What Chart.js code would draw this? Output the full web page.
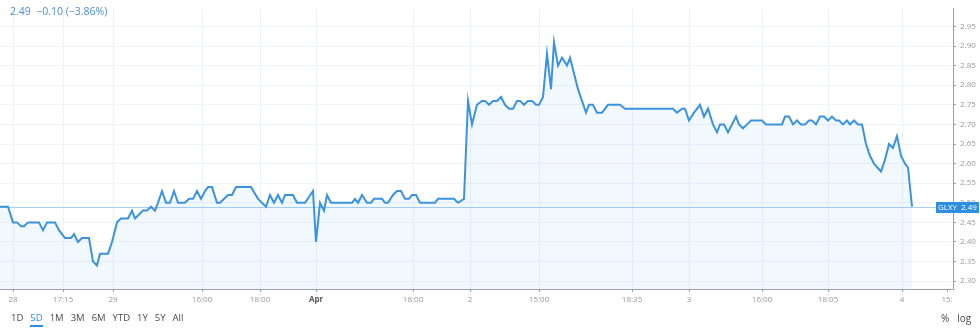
<!DOCTYPE html>
<html>
<head>
<meta charset="utf-8">
<script src="https://cdn.jsdelivr.net/npm/chart.js@4.4.1/dist/chart.umd.min.js"></script>
<style>
  html, body { margin: 0; padding: 0; background: #fff; }
  #wrap { position: relative; width: 980px; height: 328px; overflow: hidden; font-family: "Open Sans", sans-serif; }
  #graph { position: absolute; left: 0; top: 0; }
  #quote { position: absolute; left: 10px; top: 4px; font-size: 10.5px; color: #4a90d0; white-space: pre; }
  #ranges { position: absolute; left: 11px; top: 311px; display: flex; gap: 7px; font-size: 9.5px; color: #4a4a4a; }
  #ranges span.on { color: #2e8fe0; border-bottom: 2px solid #2e8fe0; padding-bottom: 1px; }
  #opts { position: absolute; left: 941px; top: 311px; font-size: 10px; color: #4a4a4a; display: flex; gap: 8px; }
</style>
</head>
<body>
<div id="wrap">
  <canvas id="graph" width="980" height="328"></canvas>
  <div id="quote">2.49  −0.10 (−3.86%)</div>
  <div id="ranges"></div>
  <div id="opts"><span>%</span><span>log</span></div>
</div>
<script>
// bar position (time) and close price
const t = [
  0, 8, 13, 17, 21, 24, 28, 39, 43, 47, 55, 59, 65, 68, 71, 74, 78, 82, 89, 93,
  97, 100, 108, 112, 117, 121, 128, 132, 135, 139, 143, 147, 151, 155, 158, 162, 166, 170, 174, 178,
  185, 189, 193, 197, 201, 205, 208, 212, 217, 220, 228, 232, 236, 251, 258, 266, 270, 274, 278, 282,
  285, 293, 297, 305, 313, 316, 320, 324, 327, 331, 352, 355, 358, 362, 367, 371, 374, 382, 385, 388,
  393, 397, 401, 405, 409, 412, 416, 420, 435, 438, 454, 458, 464, 468, 472, 477, 482, 485, 489, 493,
  497, 501, 505, 509, 513, 517, 520, 524, 528, 532, 536, 539, 543, 547, 551, 554, 558, 562, 567, 570,
  573, 578, 586, 589, 593, 597, 602, 608, 620, 625, 673, 677, 682, 685, 689, 694, 700, 704, 708, 713,
  717, 720, 724, 728, 732, 736, 739, 743, 747, 751, 762, 766, 782, 785, 789, 793, 797, 801, 805, 809,
  812, 816, 820, 824, 828, 832, 836, 839, 843, 847, 850, 854, 858, 862, 866, 870, 874, 881, 885, 889,
  893, 897, 901, 905, 908, 912
];
const price = [
  2.49, 2.49, 2.45, 2.45, 2.44, 2.44, 2.45, 2.45, 2.43, 2.45, 2.45, 2.43, 2.41, 2.41, 2.41, 2.42, 2.40, 2.41, 2.41, 2.35,
  2.34, 2.37, 2.37, 2.40, 2.45, 2.46, 2.46, 2.48, 2.46, 2.47, 2.48, 2.48, 2.49, 2.48, 2.50, 2.53, 2.50, 2.50, 2.53, 2.50,
  2.50, 2.51, 2.51, 2.53, 2.51, 2.53, 2.54, 2.54, 2.50, 2.50, 2.52, 2.52, 2.54, 2.54, 2.51, 2.49, 2.52, 2.50, 2.52, 2.50,
  2.52, 2.52, 2.50, 2.50, 2.53, 2.40, 2.50, 2.48, 2.52, 2.50, 2.50, 2.51, 2.50, 2.52, 2.50, 2.50, 2.51, 2.51, 2.50, 2.50,
  2.52, 2.53, 2.53, 2.51, 2.51, 2.52, 2.52, 2.50, 2.50, 2.51, 2.51, 2.50, 2.51, 2.76, 2.70, 2.75, 2.76, 2.76, 2.75, 2.76,
  2.76, 2.77, 2.75, 2.74, 2.74, 2.76, 2.76, 2.75, 2.76, 2.76, 2.75, 2.75, 2.77, 2.88, 2.79, 2.91, 2.85, 2.87, 2.85, 2.87,
  2.84, 2.79, 2.73, 2.75, 2.75, 2.73, 2.73, 2.75, 2.75, 2.74, 2.74, 2.73, 2.74, 2.74, 2.71, 2.73, 2.75, 2.72, 2.74, 2.70,
  2.68, 2.70, 2.70, 2.68, 2.70, 2.72, 2.70, 2.69, 2.70, 2.71, 2.71, 2.70, 2.70, 2.72, 2.72, 2.70, 2.71, 2.70, 2.70, 2.71,
  2.71, 2.70, 2.72, 2.72, 2.71, 2.72, 2.71, 2.71, 2.70, 2.71, 2.70, 2.71, 2.70, 2.70, 2.65, 2.62, 2.60, 2.58, 2.61, 2.65,
  2.64, 2.67, 2.62, 2.60, 2.59, 2.49
];

// time axis labels
const tickAt = [13, 63, 113, 202, 260, 316, 413, 470, 539, 632, 689, 762, 828, 902, 947];
const tickLabels = ["28", "17:15", "29", "16:00", "18:00", "Apr", "18:00", "2", "15:00", "18:35", "3", "16:00", "18:05", "4", "15:"];

// price axis labels
const yTicks = [2.30, 2.35, 2.40, 2.45, 2.50, 2.55, 2.60, 2.65, 2.70, 2.75, 2.80, 2.85, 2.90, 2.95];

const symbol = "GLXY";
const lastPrice = 2.49;
const ranges = ["1D", "5D", "1M", "3M", "6M", "YTD", "1Y", "5Y", "All"];
const activeRange = "5D";

// range buttons
let box = document.getElementById("ranges");
for (let r of ranges) {
  let s = document.createElement("span");
  s.textContent = r;
  if (r == activeRange) s.className = "on";
  box.appendChild(s);
}

// price line + label on the right axis
const priceLine = {
  id: "priceLine",
  beforeDatasetsDraw(chart) {
    let ctx = chart.ctx;
    let y = Math.round(chart.scales.y.getPixelForValue(lastPrice)) + 0.5;
    ctx.save();
    ctx.strokeStyle = "#a9d0f2";
    ctx.lineWidth = 1;
    ctx.beginPath();
    ctx.moveTo(chart.chartArea.left, y);
    ctx.lineTo(chart.chartArea.right, y);
    ctx.stroke();
    ctx.restore();
  },
  afterDraw(chart) {
    let ctx = chart.ctx;
    let y = Math.round(chart.scales.y.getPixelForValue(lastPrice));
    let right = chart.chartArea.right;
    ctx.save();
    ctx.fillStyle = "#2e8fe0";
    ctx.fillRect(right - 17, y - 5, 43, 11);
    ctx.fillStyle = "#fff";
    ctx.font = "8px 'Open Sans', sans-serif";
    ctx.textBaseline = "middle";
    ctx.textAlign = "left";
    ctx.fillText(symbol, right - 15, y + 0.5);
    ctx.fillText(lastPrice.toFixed(2), right + 8, y + 0.5);
    ctx.restore();
  },
};

let myChart = document.getElementById("graph").getContext("2d");
let chart = new Chart(myChart, {
  type: "line",
  data: {
    datasets: [
      {
        data: t.map((x, i) => ({ x: x, y: price[i] })),
        borderColor: "#3a93dc",
        borderWidth: 2,
        backgroundColor: "rgba(33,150,243,0.06)",
        fill: "start",
        pointRadius: 0,
        tension: 0,
      },
    ],
  },
  options: {
    responsive: false,
    animation: false,
    devicePixelRatio: 1,
    layout: { padding: 0 },
    plugins: {
      legend: { display: false },
      tooltip: { enabled: false },
    },
    scales: {
      x: {
        type: "linear",
        min: 0,
        max: 953,
        afterBuildTicks: (scale) => {
          scale.ticks = tickAt.map((v) => ({ value: v }));
        },
        afterFit: (scale) => {
          scale.height = 39;
        },
        grid: {
          color: (c) => (c.tick && c.tick.value == 947 ? "rgba(0,0,0,0)" : "#eef1f6"),
          tickColor: "#9aa0aa",
          tickLength: 3,
        },
        border: { color: "#9aa0aa" },
        ticks: {
          autoSkip: false,
          maxRotation: 0,
          padding: 3,
          color: (c) => (tickLabels[c.index] == "Apr" ? "#555" : "#999"),
          font: (c) => ({
            family: "'Open Sans', sans-serif",
            size: 8,
            weight: tickLabels[c.index] == "Apr" ? "bold" : "normal",
          }),
          callback: (v, i) => tickLabels[i],
        },
      },
      y: {
        position: "right",
        min: 2.28,
        max: 2.995,
        afterBuildTicks: (scale) => {
          scale.ticks = yTicks.map((v) => ({ value: v }));
        },
        afterFit: (scale) => {
          scale.width = 27;
        },
        grid: {
          color: "#f0f3f8",
          tickColor: "#9aa0aa",
          tickLength: 3,
        },
        border: { color: "#9aa0aa" },
        ticks: {
          padding: 4,
          color: "#999",
          font: { family: "'Open Sans', sans-serif", size: 8 },
          callback: (v) => v.toFixed(2),
        },
      },
    },
  },
  plugins: [priceLine],
});
</script>
</body>
</html>
